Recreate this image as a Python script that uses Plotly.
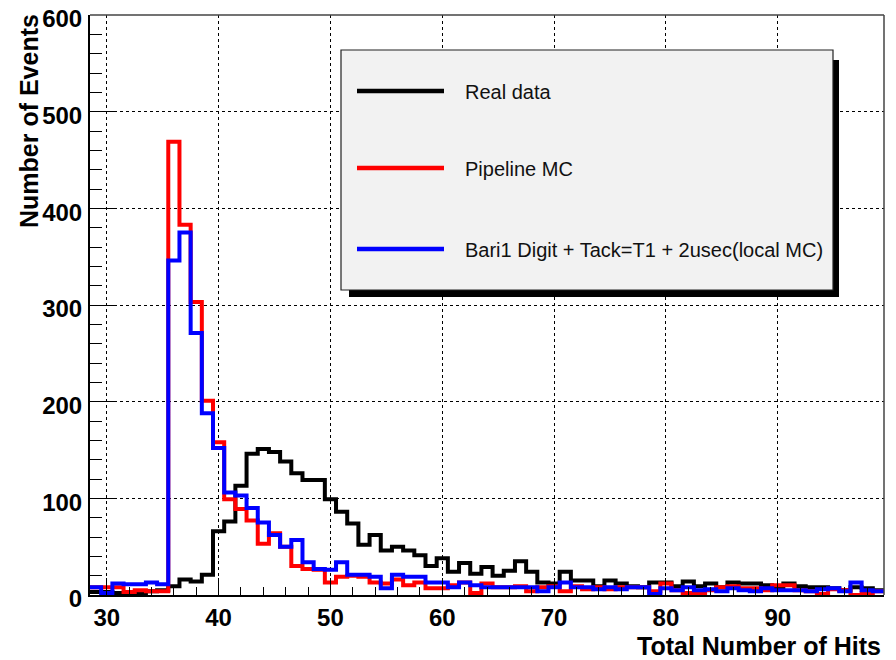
import plotly.graph_objects as go

# ---- data (bin centres, counts per bin) ----
bin_centers = list(range(29, 100))

real_data = [3, 3, 2, 0, 2, 4, 5, 9, 16, 14, 21, 66, 76, 113, 146, 151, 148, 138, 126, 119,
             119, 99, 86, 74, 52, 62, 46, 50, 46, 41, 30, 38, 24, 33, 22, 29, 20, 25, 35, 24,
             13, 12, 24, 15, 15, 9, 15, 12, 9, 8, 13, 13, 9, 14, 9, 12, 8, 13, 12, 12,
             10, 8, 12, 9, 8, 8, 7, 5, 8, 7, 5]

pipeline_mc = [8, 8, 8, 3, 5, 4, 4, 469, 383, 303, 201, 158, 99, 89, 77, 53, 64, 50, 30, 27,
               26, 13, 19, 20, 19, 13, 12, 16, 10, 13, 7, 7, 10, 13, 2, 12, 8, 8, 9, 4,
               8, 9, 4, 9, 6, 8, 6, 8, 8, 8, 4, 12, 5, 2, 1, 5, 8, 9, 7, 7,
               5, 10, 10, 5, 4, 1, 6, 5, 0, 2, 4]

local_mc = [8, 2, 12, 11, 11, 13, 11, 346, 375, 271, 188, 152, 106, 103, 90, 75, 62, 50, 57, 34,
            27, 26, 34, 21, 21, 19, 7, 21, 19, 19, 13, 13, 8, 13, 10, 8, 8, 8, 8, 8,
            4, 8, 13, 8, 8, 6, 8, 6, 8, 8, 1, 7, 5, 8, 5, 6, 4, 7, 5, 4,
            7, 5, 5, 5, 4, 6, 7, 4, 13, 5, 4]

series_names = ["Real data", "Pipeline MC", "Bari1 Digit + Tack=T1 + 2usec(local MC)"]
series_values = [real_data, pipeline_mc, local_mc]
series_colors = ["#000000", "#ff0000", "#0000ff"]

x_range = [28.5, 99.5]
y_range = [0, 600]

# ---- figure geometry (pixels); page body adds an 8px offset ----
OFF = 8
W, H = 896 - OFF, 660 - OFF
PL, PR, PT, PB = 90, 884, 15, 595          # plot area in window pixels
L, T = PL - OFF, PT - OFF
R, B = W - (PR - OFF), H - (PB - OFF)
PW, PH = PR - PL, PB - PT


def px(x):
    return (x - PL) / PW


def py(y):
    return (PB - y) / PH


fig = go.Figure()

for name, vals, col in zip(series_names, series_values, series_colors):
    edges = [c - 0.5 for c in bin_centers] + [bin_centers[-1] + 0.5]
    yy = list(vals) + [vals[-1]]
    fig.add_trace(go.Scatter(x=edges, y=yy, mode="lines", name=name,
                             line=dict(color=col, width=4, shape="hv"),
                             showlegend=False, hoverinfo="skip"))

tickfont = dict(family="Liberation Sans", size=24, color="black", weight="bold")

fig.update_layout(
    width=W, height=H,
    margin=dict(l=L, r=R, t=T, b=B, autoexpand=False),
    paper_bgcolor="white", plot_bgcolor="white",
    xaxis=dict(range=x_range, tick0=30, dtick=10, showgrid=True, gridcolor="black",
               griddash="dot", gridwidth=1, ticks="inside", ticklen=17, tickwidth=1,
               tickcolor="black", showline=True, linecolor="black", linewidth=2,
               zeroline=False, tickfont=tickfont, ticklabelstandoff=0, automargin=False,
               ticklabeloverflow="allow",
               minor=dict(tick0=30, dtick=2, ticks="inside", ticklen=8, tickcolor="black",
                          tickwidth=1, showgrid=False)),
    yaxis=dict(range=y_range, tick0=0, dtick=100, showgrid=True, gridcolor="black",
               griddash="dot", gridwidth=1, ticks="inside", ticklen=24, tickwidth=1,
               tickcolor="black", showline=True, linecolor="black", linewidth=2,
               zeroline=False, tickfont=tickfont, ticklabelstandoff=1, ticklabelshift=4,
               automargin=False, ticklabeloverflow="allow",
               minor=dict(tick0=0, dtick=20, ticks="inside", ticklen=12, tickcolor="black",
                          tickwidth=1, showgrid=False)),
)

shapes = []
# top and right frame
shapes.append(dict(type="line", xref="paper", yref="paper", x0=0, x1=1, y0=1, y1=1,
                   line=dict(color="#444444", width=1.5)))
shapes.append(dict(type="line", xref="paper", yref="paper", x0=1, x1=1, y0=0, y1=1,
                   line=dict(color="#444444", width=1.5)))
# legend shadow and box
shapes.append(dict(type="rect", xref="paper", yref="paper", x0=px(349), x1=px(839),
                   y0=py(297), y1=py(60), fillcolor="black", line=dict(width=0)))
shapes.append(dict(type="rect", xref="paper", yref="paper", x0=px(341), x1=px(833),
                   y0=py(290), y1=py(50), fillcolor="#f2f2f2",
                   line=dict(color="#222222", width=1.2)))
annotations = []
legend_y = [91, 168, 249]
for name, col, ly in zip(series_names, series_colors, legend_y):
    shapes.append(dict(type="line", xref="paper", yref="paper", x0=px(357), x1=px(444),
                       y0=py(ly), y1=py(ly), line=dict(color=col, width=4.5)))
    annotations.append(dict(text=name, xref="paper", yref="paper", x=px(463), y=py(ly + 1),
                            xanchor="left", yanchor="middle", showarrow=False,
                            font=dict(family="Liberation Sans", size=20, color="#111111")))

titlefont = dict(family="Liberation Sans", size=25, color="black", weight="bold")
annotations.append(dict(text="Number of Events", xref="paper", yref="paper",
                        x=px(29), y=py(121), textangle=-90, xanchor="center",
                        yanchor="middle", showarrow=False, font=titlefont))
annotations.append(dict(text="Total Number of Hits", xref="paper", yref="paper",
                        x=px(883), y=py(646), xanchor="right", yanchor="middle",
                        showarrow=False, font=titlefont))

fig.update_layout(shapes=shapes, annotations=annotations)

fig.write_html("out.html")
